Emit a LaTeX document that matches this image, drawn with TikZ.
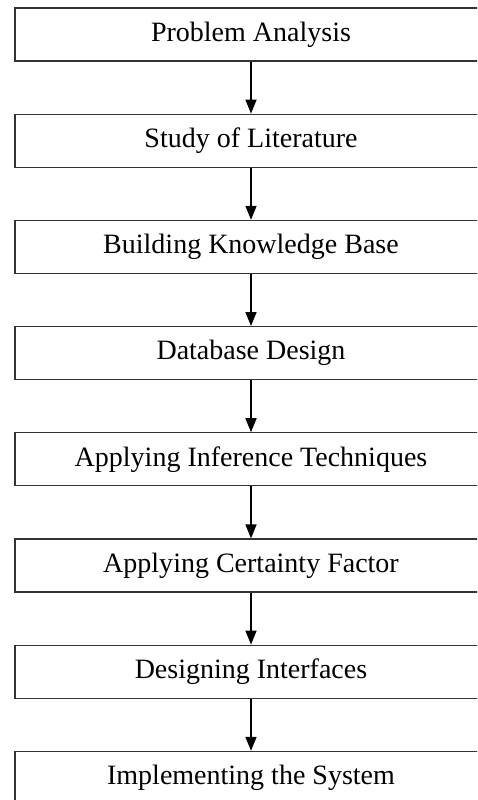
\documentclass[tikz,border=0pt]{standalone}
\usepackage{fontspec}
\setmainfont{Liberation Serif}
\usetikzlibrary{arrows.meta, positioning}

\begin{document}
\begin{tikzpicture}[x=1pt, y=1pt,
		stage/.style={draw=black!80, line width=1.2pt, minimum width=472pt, minimum height=53pt, inner sep=0pt, font=\fontsize{28}{32}\selectfont},
		flow/.style={-{Triangle[width=11pt,length=14pt]}, line width=1.6pt},
		node distance=52pt]
		\useasboundingbox (0,0) rectangle (477,-800);
		\clip (0,0) rectangle (477,-800);
		\node [stage] (analysis) at (251,-34.5) {Problem Analysis};
		\node [stage, below=of analysis] (literature) {Study of Literature};
		\node [stage, below=of literature] (knowledge) {Building Knowledge Base};
		\node [stage, below=of knowledge] (database) {Database Design};
		\node [stage, below=of database] (inference) {Applying Inference Techniques};
		\node [stage, below=of inference] (certainty) {Applying Certainty Factor};
		\node [stage, below=of certainty] (interfaces) {Designing Interfaces};
		\node [stage, below=of interfaces] (system) {Implementing the System};
		\foreach \a/\b in {analysis/literature, literature/knowledge, knowledge/database, database/inference, inference/certainty, certainty/interfaces, interfaces/system}{
			\draw [flow] (\a) -- (\b);
		}
	\end{tikzpicture}
\end{document}
